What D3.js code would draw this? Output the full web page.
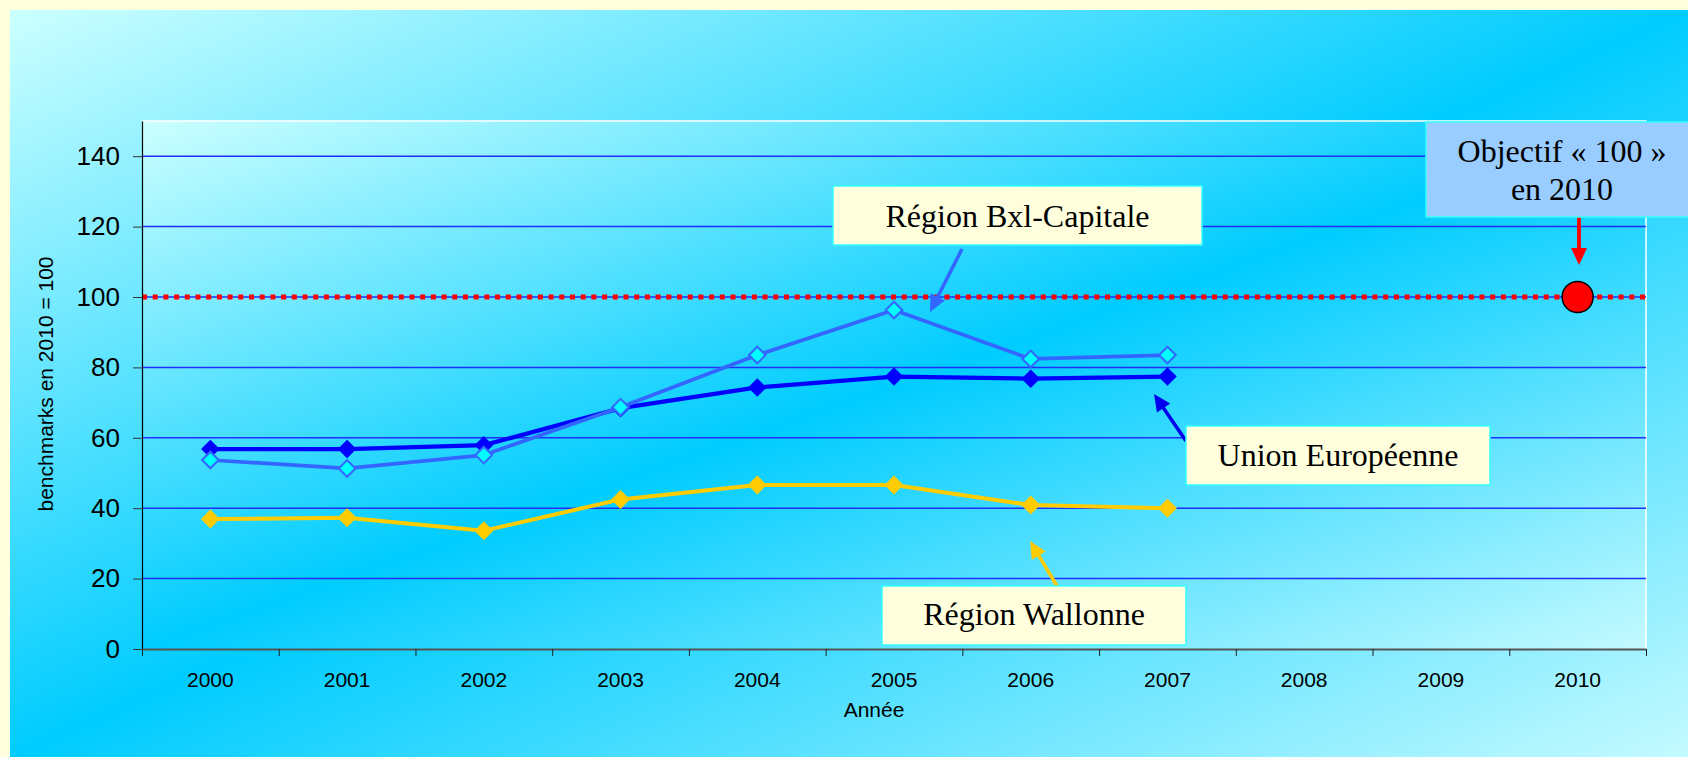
<!DOCTYPE html>
<html>
<head>
<meta charset="utf-8">
<script src="https://cdn.jsdelivr.net/npm/d3@7"></script>
<style>
body { margin: 0; background: #ffffdd; overflow: hidden; }
svg { display: block; }
.axis text { font-family: "Liberation Sans", Arial, sans-serif; fill: #000; }
.note { font-family: "Liberation Serif", "Times New Roman", serif; font-size: 32px; fill: #000; text-anchor: middle; }
</style>
</head>
<body>
<svg width="1688" height="757"></svg>
<script>
// data........................................................................

var years = ["2000", "2001", "2002", "2003", "2004", "2005",
	"2006", "2007", "2008", "2009", "2010"];
var ueValues = [56.8, 56.8, 57.9, 68.4, 74.3, 77.4, 76.8, 77.4];
var bxlValues = [53.7, 51.3, 55.1, 68.7, 83.5, 96.3, 82.4, 83.5];
var walValues = [36.9, 37.3, 33.6, 42.5, 46.6, 46.6, 40.9, 40.0];
var targetYear = "2010", targetValue = 100;
var yTicks = [0, 20, 40, 60, 80, 100, 120, 140];

// frame and scales............................................................

var svg = d3.select("svg"),
	width = 1688, height = 757,
	plotL = 142, plotR = 1646, plotT = 121, plotB = 649;

var x = d3.scaleBand().domain(years).range([plotL, plotR]),
	xEdge = d3.scaleLinear().domain([0, years.length]).range([plotL, plotR]),
	y = d3.scaleLinear().domain([0, 150]).range([plotB, plotT]),
	cx = function(i) { return x(years[i]) + x.bandwidth() / 2; };

var defs = svg.append("defs");
var grad = defs.append("linearGradient")
	.attr("id", "bg")
	.attr("x1", 0).attr("y1", 0).attr("x2", 1).attr("y2", 1);
grad.append("stop").attr("offset", 0).attr("stop-color", "#ccffff");
grad.append("stop").attr("offset", 0.5).attr("stop-color", "#00ccff");
grad.append("stop").attr("offset", 1).attr("stop-color", "#c4faff");

svg.append("rect")
	.attr("x", 10).attr("y", 10)
	.attr("width", width - 10).attr("height", height - 10)
	.attr("fill", "url(#bg)");

svg.append("rect")
	.attr("x", plotL).attr("y", plotT)
	.attr("width", plotR - plotL).attr("height", plotB - plotT)
	.attr("fill", "url(#bg)");

// plot border (white top and right)
svg.append("path")
	.attr("d", "M" + plotL + "," + plotT + "H" + plotR + "V" + plotB)
	.attr("fill", "none")
	.attr("stroke", "#fff")
	.attr("stroke-width", 1.5);

// gridlines
svg.append("g").selectAll("line")
	.data(yTicks.filter(function(d) { return d > 0; }))
	.enter().append("line")
		.attr("x1", plotL).attr("x2", plotR)
		.attr("y1", function(d) { return y(d); })
		.attr("y2", function(d) { return y(d); })
		.attr("stroke", "#1f2fff")
		.attr("stroke-width", 1.5);

// target line at 100
svg.append("line")
	.attr("x1", plotL).attr("x2", plotR)
	.attr("y1", y(targetValue)).attr("y2", y(targetValue))
	.attr("stroke", "#ff0000")
	.attr("stroke-width", 5)
	.attr("stroke-dasharray", "5 5.7");

// axes........................................................................

var yAxis = svg.append("g")
	.attr("class", "axis")
	.attr("transform", "translate(" + plotL + ",0)")
	.call(d3.axisLeft(y).tickValues(yTicks).tickSize(9).tickSizeOuter(0).tickPadding(13));
yAxis.select(".domain").attr("stroke", "#000").attr("stroke-width", 1.2);
yAxis.selectAll(".tick line").attr("stroke", "#333");
yAxis.selectAll("text").style("font-size", "26px");

var xTicks = svg.append("g")
	.attr("class", "axis")
	.attr("transform", "translate(0," + plotB + ")")
	.call(d3.axisBottom(xEdge).tickValues(d3.range(years.length + 1))
		.tickSize(7).tickSizeOuter(0).tickFormat(""));
xTicks.select(".domain").attr("stroke", "#555").attr("stroke-width", 2);
xTicks.selectAll(".tick line").attr("stroke", "#222");

var xLabels = svg.append("g")
	.attr("class", "axis")
	.attr("transform", "translate(0," + plotB + ")")
	.call(d3.axisBottom(x).tickSize(0).tickPadding(23));
xLabels.select(".domain").remove();
xLabels.selectAll("text").style("font-size", "21px");

svg.append("text")
	.attr("x", 874).attr("y", 717)
	.attr("text-anchor", "middle")
	.style("font-family", "'Liberation Sans', Arial, sans-serif")
	.style("font-size", "21px")
	.text("Année");

svg.append("text")
	.attr("transform", "translate(53,384) rotate(-90)")
	.attr("text-anchor", "middle")
	.style("font-family", "'Liberation Sans', Arial, sans-serif")
	.style("font-size", "21px")
	.text("benchmarks en 2010 = 100");

// series......................................................................

var line = d3.line()
	.x(function(d, i) { return cx(i); })
	.y(function(d) { return y(d); });

function drawSeries(values, color, lineWidth, fill, stroke, size) {
	var g = svg.append("g");
	g.append("path")
		.datum(values)
		.attr("d", line)
		.attr("fill", "none")
		.attr("stroke", color)
		.attr("stroke-width", lineWidth)
		.attr("stroke-linejoin", "round");
	g.selectAll("path.marker")
		.data(values)
		.enter().append("path")
			.attr("class", "marker")
			.attr("transform", function(d, i) { return "translate(" + cx(i) + "," + y(d) + ")"; })
			.attr("d", d3.symbol(d3.symbolDiamond2, size))
			.attr("fill", fill)
			.attr("stroke", stroke)
			.attr("stroke-width", stroke == "none" ? 0 : 2);
}

drawSeries(walValues, "#ffcc00", 4, "#ffcc00", "none", 230);
drawSeries(ueValues, "#0000ff", 4.3, "#0000ff", "none", 220);
drawSeries(bxlValues, "#3366ff", 3.7, "#00ffff", "#3366ff", 176);

// target point
svg.append("circle")
	.attr("cx", x(targetYear) + x.bandwidth() / 2)
	.attr("cy", y(targetValue))
	.attr("r", 15.5)
	.attr("fill", "#ff0000")
	.attr("stroke", "#000")
	.attr("stroke-width", 1.5);

// annotations.................................................................

function arrow(x1, y1, x2, y2, color, w) {
	var dx = x2 - x1, dy = y2 - y1,
		len = Math.sqrt(dx * dx + dy * dy),
		ux = dx / len, uy = dy / len,
		hl = 17, hw = 8,
		bx = x2 - ux * hl, by = y2 - uy * hl;
	svg.append("line")
		.attr("x1", x1).attr("y1", y1)
		.attr("x2", bx + ux * 2).attr("y2", by + uy * 2)
		.attr("stroke", color)
		.attr("stroke-width", w);
	svg.append("path")
		.attr("d", "M" + x2 + "," + y2 +
			"L" + (bx - uy * hw) + "," + (by + ux * hw) +
			"L" + (bx + uy * hw) + "," + (by - ux * hw) + "Z")
		.attr("fill", color);
}

function box(x0, y0, w, h, fill, lines, baselines) {
	svg.append("rect")
		.attr("x", x0).attr("y", y0)
		.attr("width", w).attr("height", h)
		.attr("fill", fill)
		.attr("stroke", "#33ffff")
		.attr("stroke-width", 1.5);
	lines.forEach(function(t, i) {
		svg.append("text")
			.attr("class", "note")
			.attr("x", x0 + w / 2)
			.attr("y", baselines[i])
			.text(t);
	});
}

arrow(962, 249, 930, 312, "#3366ff", 3.5);
arrow(1186, 441, 1154, 394, "#0000ee", 3.5);
arrow(1057, 586, 1030, 541, "#ffcc00", 3.5);
arrow(1579, 217, 1579, 265, "#ff0000", 3.8);

box(833, 186, 369, 59, "#ffffdd", ["Région Bxl-Capitale"], [227]);
box(1186, 426, 304, 59, "#ffffdd", ["Union Européenne"], [466]);
box(882, 586, 304, 59, "#ffffdd", ["Région Wallonne"], [625]);
box(1426, 122, 272, 95, "#99ccff", ["Objectif « 100 »", "en 2010"], [162, 200]);
</script>
</body>
</html>
